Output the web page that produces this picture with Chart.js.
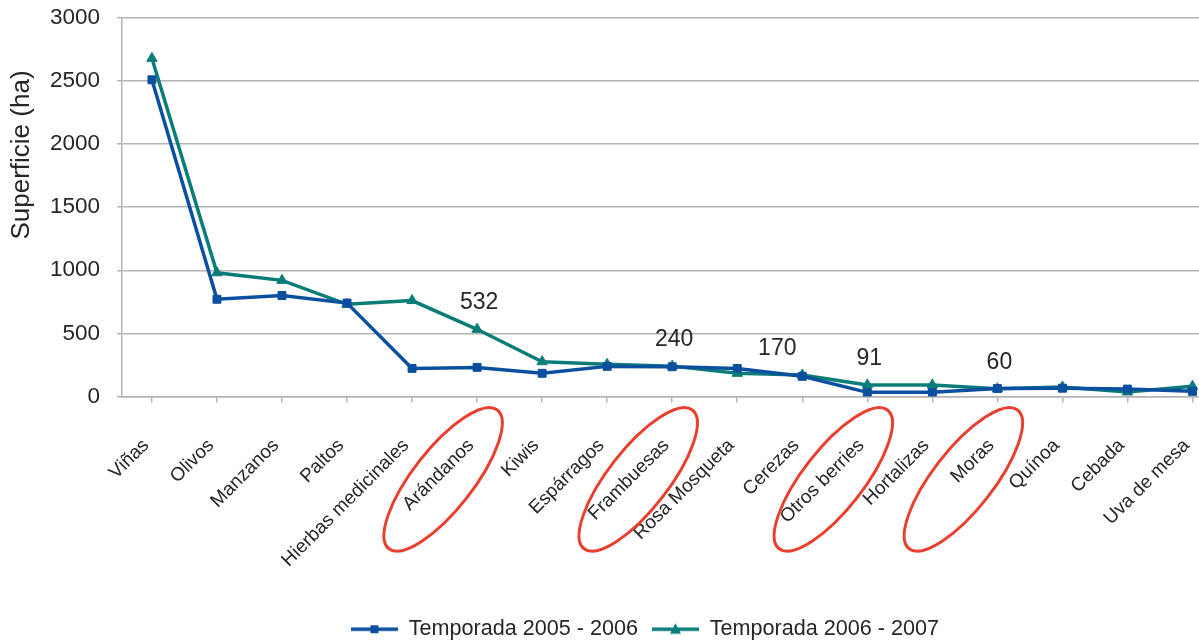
<!DOCTYPE html>
<html><head><meta charset="utf-8">
<script src="https://cdn.jsdelivr.net/npm/chart.js@4/dist/chart.umd.min.js"></script>
<style>html,body{margin:0;padding:0;background:#fff;overflow:hidden;width:1199px;height:640px}</style>
</head><body><canvas id="c" width="1206" height="640"></canvas>
<script>
const categories = ["Viñas","Olivos","Manzanos","Paltos","Hierbas medicinales","Arándanos","Kiwis","Espárragos","Frambuesas","Rosa Mosqueta","Cerezas","Otros berries","Hortalizas","Moras","Quínoa","Cebada","Uva de mesa"];
const temporada0506 = [2510,770,800,740,222,230,183,238,235,222,159,32,32,62,65,58,40];
const temporada0607 = [2680,980,920,730,760,532,275,254,240,183,170,91,91,60,75,35,80];
const seriesNames = ["Temporada 2005 - 2006","Temporada 2006 - 2007"];
const yTicks = [0,500,1000,1500,2000,2500,3000];
const labelledPoints = [5,8,10,11,13];
const circledCategories = [5,8,11,13];
const yTitle = "Superficie (ha)";

const BLUE = '#0b4f9f', TEAL = '#0a7d79', TEXT = '#262626', GRID = '#b4b4b4';
const FONT = "'Liberation Sans', Arial, sans-serif";

function legendIcon(color, shape){
  const c = document.createElement('canvas'); c.width = 47; c.height = 14;
  const g = c.getContext('2d');
  g.strokeStyle = color; g.lineWidth = 3.5;
  g.beginPath(); g.moveTo(0,7); g.lineTo(47,7); g.stroke();
  g.fillStyle = color;
  if (shape === 'rect') { g.fillRect(19.5,3,8,8); }
  else { g.beginPath(); g.moveTo(23.5,1); g.lineTo(29,11.5); g.lineTo(18,11.5); g.closePath(); g.fill(); }
  return c;
}
const icons = [legendIcon(BLUE,'rect'), legendIcon(TEAL,'triangle')];

const extras = {
  id: 'extras',
  afterLayout(chart){
    const lg = chart.legend;
    if (lg) { lg.left += 42; lg.right += 42; lg.top += 10; lg.bottom += 10; }
  },
  afterDatasetsDraw(chart){
    const ctx = chart.ctx, xs = chart.scales.x, ys = chart.scales.y, area = chart.chartArea;
    ctx.save();
    ctx.font = "23px " + FONT; ctx.fillStyle = TEXT; ctx.textAlign = 'center'; ctx.textBaseline = 'alphabetic';
    labelledPoints.forEach(i => {
      const v = temporada0607[i];
      const dx = (i === 10) ? -25 : 2;
      ctx.fillText(String(v), xs.getPixelForValue(i) + dx, ys.getPixelForValue(v) - 20);
    });
    ctx.strokeStyle = '#e8402f'; ctx.lineWidth = 3;
    circledCategories.forEach(i => {
      const cx = xs.getPixelForValue(i) - 34, cy = area.bottom + 83;
      ctx.beginPath(); ctx.ellipse(cx, cy, 88, 30, -52*Math.PI/180, 0, Math.PI*2); ctx.stroke();
    });
    ctx.translate(22, 155); ctx.rotate(-Math.PI/2);
    ctx.font = "26px " + FONT; ctx.textAlign = 'center'; ctx.textBaseline = 'middle';
    ctx.fillText(yTitle, 0, 0);
    ctx.restore();
  }
};

new Chart(document.getElementById('c'), {
  type: 'line',
  data: {
    datasets: [
      { label: seriesNames[0], data: temporada0506.map((v,i)=>({x:i,y:v})), borderColor: BLUE, backgroundColor: BLUE,
        borderWidth: 3.5, pointStyle: 'rect', pointRadius: 5.6, pointBorderWidth: 1, tension: 0 },
      { label: seriesNames[1], data: temporada0607.map((v,i)=>({x:i,y:v})), borderColor: TEAL, backgroundColor: TEAL,
        borderWidth: 3.5, pointStyle: 'triangle', pointRadius: 6, pointBorderWidth: 1, tension: 0 }
    ]
  },
  options: {
    responsive: false, animation: false,
    layout: { padding: { left: 0, right: 0, top: 18, bottom: 0 } },
    plugins: {
      tooltip: { enabled: false },
      legend: {
        position: 'bottom',
        labels: {
          usePointStyle: true, pointStyleWidth: 47, boxHeight: 14, padding: 14,
          color: TEXT, font: { family: FONT, size: 21.6 },
          generateLabels(chart){
            const items = Chart.defaults.plugins.legend.labels.generateLabels(chart);
            items.forEach((it,i)=>{ it.pointStyle = icons[i]; });
            return items;
          }
        }
      }
    },
    scales: {
      x: {
        type: 'linear', min: -0.46, max: 16.1,
        afterBuildTicks(s){ s.ticks = categories.map((c,i)=>({value:i})); },
        afterFit(s){ s.height = 198; s.paddingLeft = 0; s.paddingRight = 0; },
        grid: { drawOnChartArea: false, drawTicks: true, tickLength: 6, color: GRID, lineWidth: 1.5 },
        border: { color: GRID, width: 1.5 },
        ticks: { autoSkip: false, minRotation: 45, maxRotation: 45, padding: 32, labelOffset: -6,
          color: TEXT, font: { family: FONT, size: 19 },
          callback: (v) => categories[v] ?? '' }
      },
      y: {
        min: 0, max: 3000,
        afterBuildTicks(s){ s.ticks = yTicks.map(v=>({value:v})); },
        afterFit(s){ s.width = 122; s.paddingTop = 0; s.paddingBottom = 0; },
        grid: { color: GRID, lineWidth: 1.5, tickLength: 5 },
        border: { color: GRID, width: 1.5 },
        ticks: { padding: 17, color: TEXT, font: { family: FONT, size: 22.5 }, callback: (v) => String(v) }
      }
    }
  },
  plugins: [extras]
});
</script>
</body></html>
